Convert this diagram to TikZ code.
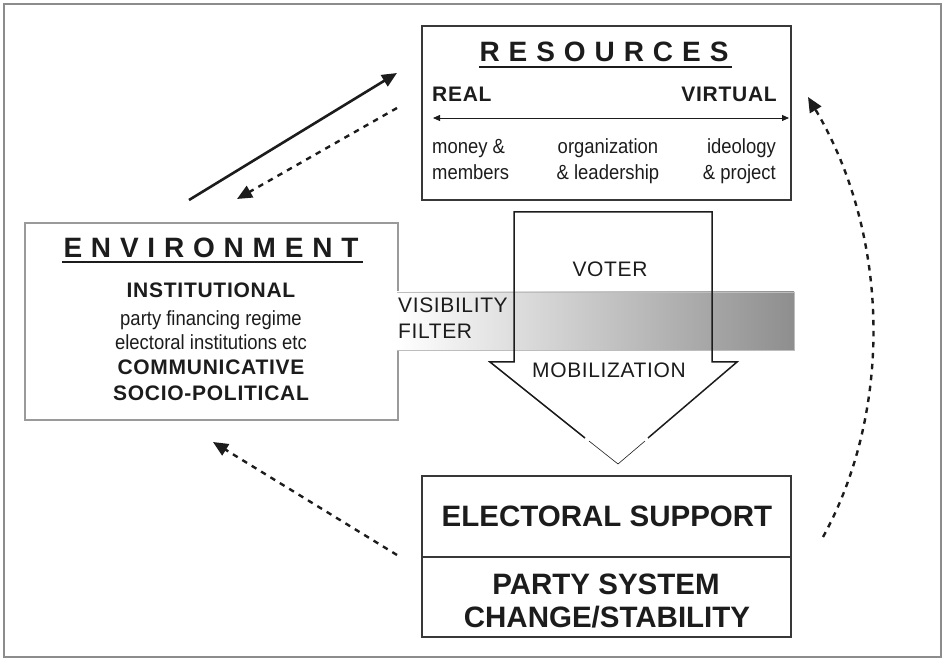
\documentclass[tikz,border=0pt]{standalone}
\usepackage{fontspec}
\setmainfont{Liberation Sans}
\newfontfamily\narrowfont[FakeStretch=0.9]{Liberation Sans}
\usetikzlibrary{arrows.meta}
\definecolor{ink}{HTML}{1C1C1C}
\definecolor{boxline}{HTML}{383838}
\definecolor{envline}{HTML}{9A9A9A}
\definecolor{framecol}{HTML}{8C8C8C}
\definecolor{bandgray}{HTML}{8E8E8E}
\definecolor{bandline}{HTML}{BDBDBD}
\begin{document}
\begin{tikzpicture}[x=1pt,y=-1pt,
  box/.style={draw=boxline,line width=1.1pt,inner sep=0pt},
  envbox/.style={draw=envline,line width=1.3pt,inner sep=0pt},
  txt/.style={inner sep=0pt,text=ink,font=\narrowfont\fontsize{20.5}{22}\selectfont},
  btxt/.style={inner sep=0pt,text=ink,font=\fontsize{21}{23}\selectfont\bfseries\addfontfeatures{LetterSpace=3.5}},
  bigtxt/.style={inner sep=0pt,text=ink,font=\fontsize{29.5}{31}\selectfont\bfseries},
  ttl/.style={inner sep=0pt,text=ink,font=\fontsize{28}{30}\selectfont\bfseries},
  mtxt/.style={inner sep=0pt,text=ink,font=\fontsize{21}{23}\selectfont\addfontfeatures{LetterSpace=3}},
  uline/.style={draw=ink,line width=1.6pt},
  solidarr/.style={draw=ink,line width=2.6pt,-{Triangle[length=15pt,width=13pt]}},
  dasharr/.style={draw=ink,line width=2.4pt,dash pattern=on 5.5pt off 5.5pt,-{Triangle[length=15pt,width=13pt]}},
  bigarrow/.style={draw=ink,line width=1.5pt,line join=miter},
]
\useasboundingbox (0,0) rectangle (943,660);
\draw[framecol,line width=1.4pt] (4,4) rectangle (941,657);

% boxes
\node[box,minimum width=369pt,minimum height=174pt] (res) at (606.5,113) {};
\node[envbox,minimum width=373pt,minimum height=197pt] (env) at (211.5,321.5) {};
\node[box,minimum width=369pt,minimum height=81pt] (es) at (606.5,516.5) {};
\node[box,minimum width=369pt,minimum height=80pt] (ps) at (606.5,597) {};

% visibility filter band
\shade[left color=white,right color=bandgray] (397,292) rectangle (794,350);
\draw[bandline,line width=0.9pt] (397,292) -- (794,292) -- (794,350) -- (397,350);

% big voter mobilization arrow
\draw[bigarrow] (585,438) -- (490,362) -- (514,362) -- (514,212) -- (712,212)
  -- (712,362) -- (737,362) -- (648,438);
\draw[draw=ink,line width=0.6pt] (589,441) -- (618,464) -- (645,441);

% RESOURCES box content
\node[ttl,anchor=base] (restitle) at (604,62)
  {\makebox[249pt][s]{R\hfill E\hfill S\hfill O\hfill U\hfill R\hfill C\hfill E\hfill S}};
\draw[uline] (479,67) -- (732,67);
\node[btxt,anchor=base west] (real) at (432,102) {REAL};
\node[btxt,anchor=base east] (virtual) at (777,102) {VIRTUAL};
\coordinate (scaleL) at (433,118);
\coordinate (scaleR) at (789,118);
\draw[draw=ink,line width=0.8pt,{Triangle[length=7pt,width=6pt]}-{Triangle[length=7pt,width=6pt]}] (scaleL) -- (scaleR);
\node[txt,anchor=base west] (money) at (432,154) {money \&};
\node[txt,anchor=base west] (members) at (432,180) {members};
\node[txt,anchor=base] (org) at (608,154) {organization};
\node[txt,anchor=base] (lead) at (608,180) {\& leadership};
\node[txt,anchor=base east] (ideo) at (776,154) {ideology};
\node[txt,anchor=base east] (proj) at (776,180) {\& project};

% ENVIRONMENT box content
\node[ttl,anchor=base] (envname) at (211,258)
  {\makebox[295pt][s]{E\hfill N\hfill V\hfill I\hfill R\hfill O\hfill N\hfill M\hfill E\hfill N\hfill T}};
\draw[uline] (62,262) -- (363,262);
\node[btxt,anchor=base] (inst) at (211,298) {INSTITUTIONAL};
\node[txt,anchor=base] (pfr) at (211,326) {party financing regime};
\node[txt,anchor=base] (eie) at (211,350) {electoral institutions etc};
\node[btxt,anchor=base] (comm) at (211,374) {COMMUNICATIVE};
\node[btxt,anchor=base] (socio) at (211,400) {SOCIO-POLITICAL};

% filter / arrow texts
\node[mtxt,anchor=base west] (vis) at (398,313) {VISIBILITY};
\node[mtxt,anchor=base west] (filt) at (398,339) {FILTER};
\node[mtxt,anchor=base] (voter) at (610,277) {VOTER};
\node[mtxt,anchor=base] (mob) at (609,378) {MOBILIZATION};

% electoral support box content
\node[bigtxt,anchor=base] (estxt) at (607,526) {ELECTORAL SUPPORT};
\node[bigtxt,anchor=base] (pstxt1) at (606,594) {PARTY SYSTEM};
\node[bigtxt,anchor=base] (pstxt2) at (607,627) {CHANGE/STABILITY};

% connectors
\coordinate (envNE) at (189,200);
\coordinate (resW1) at (397,73);
\coordinate (resW2) at (397,108);
\coordinate (envNE2) at (237,199);
\coordinate (esW) at (397,555);
\coordinate (envS) at (213,442);
\coordinate (esE) at (823,537);
\coordinate (resE) at (808,97);
\draw[solidarr] (envNE) -- (resW1);
\draw[dasharr] (resW2) -- (envNE2);
\draw[dasharr] (esW) -- (envS);
\draw[dasharr] (esE) .. controls (893,410) and (890,235) .. (resE);
\end{tikzpicture}
\end{document}
